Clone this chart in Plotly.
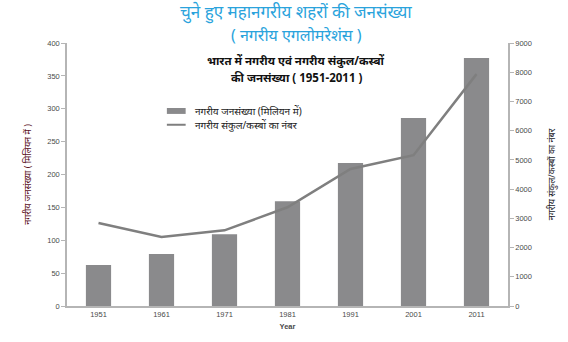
import plotly.graph_objects as go

years = ["1951", "1961", "1971", "1981", "1991", "2001", "2011"]
urban_population_mn = [62.4, 78.9, 109.1, 159.5, 217.6, 286.1, 377.1]
num_towns = [2843, 2365, 2590, 3378, 4689, 5161, 7935]

left_ticks = [0, 50, 100, 150, 200, 250, 300, 350, 400]
right_ticks = [0, 1000, 2000, 3000, 4000, 5000, 6000, 7000, 8000, 9000]

bar_label = "नगरीय जनसंख्या (मिलियन में)"
line_label = "नगरीय संकुल/कस्बों का नंबर"

BAR_COLOR = "#8a8a8c"
LINE_COLOR = "#7f7f7f"
FONT = "Noto Sans, DejaVu Sans, sans-serif"
TICK_FONT = dict(family="Liberation Sans, Arial, sans-serif", size=7.5, color="#4a4a4a")

W, H = 568, 342
L, R, T, B = 67, 55, 43, 32
plot_w = W - L - R
plot_h = H - T - B


def px(x):
    return (x - L) / plot_w


def py(y):
    return (H - B - y) / plot_h


fig = go.Figure()

fig.add_trace(go.Bar(
    x=years, y=urban_population_mn,
    name=bar_label,
    marker=dict(color=BAR_COLOR, line=dict(width=0)),
    width=0.4,
    yaxis="y",
))

fig.add_trace(go.Scatter(
    x=years, y=num_towns,
    name=line_label,
    mode="lines",
    line=dict(color=LINE_COLOR, width=2.5),
    yaxis="y2",
))

fig.update_layout(
    width=W, height=H,
    margin=dict(l=L, r=R, t=T, b=B),
    paper_bgcolor="white",
    plot_bgcolor="white",
    showlegend=False,
    xaxis=dict(
        type="category",
        showline=True, linecolor="#b5b5b5", linewidth=1.5,
        ticks="", showgrid=False,
        tickfont=TICK_FONT,
        title=dict(text="<b>Year</b>",
                   font=dict(family="Liberation Sans, Arial, sans-serif", size=7.5, color="#4a4a4a"),
                   standoff=6),
    ),
    yaxis=dict(
        range=[0, 400], tickvals=left_ticks,
        showline=True, linecolor="#b5b5b5", linewidth=1.5,
        ticks="outside", ticklen=4, tickcolor="#b5b5b5",
        showgrid=False, zeroline=False,
        tickfont=TICK_FONT,
        title=dict(text="नगरीय जनसंख्या ( मिलियन में )",
                   font=dict(family=FONT, size=9, color="#5a0f1c"), standoff=14),
    ),
    yaxis2=dict(
        range=[0, 9000], tickvals=right_ticks,
        overlaying="y", side="right",
        showline=True, linecolor="#b5b5b5", linewidth=1.5,
        ticks="outside", ticklen=4, tickcolor="#b5b5b5",
        showgrid=False, zeroline=False,
        tickfont=TICK_FONT,
        title=dict(text="नगरीय संकुल/कस्बों का नंबर",
                   font=dict(family=FONT, size=9, color="#1a1a2a"), standoff=18),
    ),
)

# hand-drawn legend keys: wide bar swatch and line swatch
fig.add_shape(type="rect", xref="paper", yref="paper",
              x0=px(168), x1=px(187), y0=py(115), y1=py(109),
              fillcolor=BAR_COLOR, line=dict(width=0))
fig.add_shape(type="line", xref="paper", yref="paper",
              x0=px(168), x1=px(187), y0=py(126), y1=py(126),
              line=dict(color=LINE_COLOR, width=2))
for text, ypix in [(bar_label, 112), (line_label, 126)]:
    fig.add_annotation(text=text, xref="paper", yref="paper",
                       x=px(194), y=py(ypix), xanchor="left", yanchor="middle",
                       showarrow=False, font=dict(family=FONT, size=10, color="#222222"))

titles = [
    ("चुने हुए महानगरीय शहरों की जनसंख्या", 12, 17, "#2aa3dc"),
    ("( नगरीय एगलोमरेशंस )", 35, 16, "#2aa3dc"),
    ("<b>भारत में नगरीय एवं नगरीय संकुल/कस्बों</b>", 61, 11.5, "#111111"),
    ("<b>की जनसंख्या ( 1951-2011 )</b>", 78, 11.5, "#111111"),
]
for text, ypix, size, color in titles:
    fig.add_annotation(
        text=text, xref="paper", yref="paper",
        x=px(299), y=py(ypix),
        xanchor="center", yanchor="middle", showarrow=False,
        font=dict(family=FONT, size=size, color=color),
    )

fig.write_html("out.html")
